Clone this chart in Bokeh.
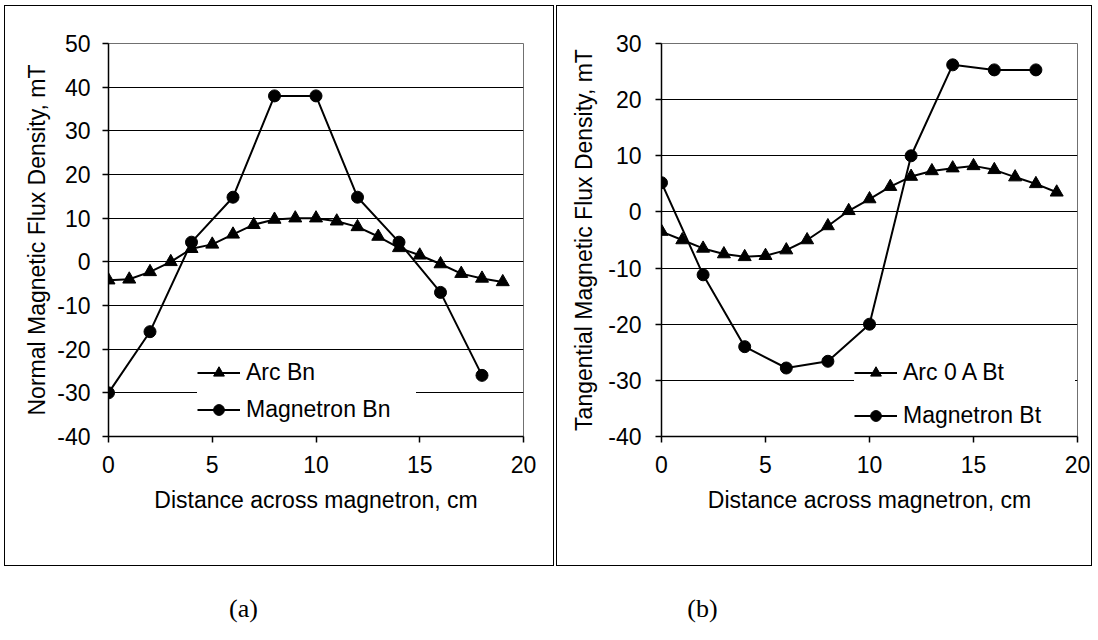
from bokeh.plotting import figure
from bokeh.models import Range1d, FixedTicker, Legend, LegendItem, Spacer
from bokeh.layouts import column, row
from bokeh.embed import file_html
from bokeh.resources import INLINE
from bokeh.core.properties import value

# ---- data ----
x_arc = list(range(20))
arc_bn = [-4.2, -4.0, -2.3, 0.0, 3.0, 4.0, 6.3, 8.5, 9.7, 10.0,
          10.0, 9.3, 8.0, 5.8, 3.2, 1.5, -0.5, -2.7, -3.8, -4.6]
x_mag = [0, 2, 4, 6, 8, 10, 12, 14, 16, 18]
mag_bn = [-30.0, -16.0, 4.5, 14.8, 38.0, 38.0, 14.8, 4.5, -7.0, -26.0]

arc_bt = [-3.5, -5.0, -6.5, -7.5, -8.0, -7.8, -6.8, -5.0, -2.5, 0.2,
          2.3, 4.5, 6.3, 7.3, 7.8, 8.2, 7.5, 6.2, 5.0, 3.5]
mag_bt = [5.2, -11.2, -24.0, -27.8, -26.6, -20.0, 10.0, 26.2, 25.3, 25.3]

x_ticks = [0, 5, 10, 15, 20]
y_ticks_a = [-40, -30, -20, -10, 0, 10, 20, 30, 40, 50]
y_ticks_b = [-40, -30, -20, -10, 0, 10, 20, 30]

labels_a = ["Arc Bn", "Magnetron Bn"]
labels_b = ["Arc 0 A Bt", "Magnetron Bt"]
xlabel = "Distance across magnetron, cm"
ylabel_a = "Normal Magnetic Flux Density, mT"
ylabel_b = "Tangential Magnetic Flux Density, mT"
captions = ["(a)", "(b)"]
caption_x = [243, 702]

FONT = "Liberation Sans"
FS = "23px"
PANEL_H = 561


def panel(width, bl, br, yticks, ylabel, arc, mag, labels,
          leg_loc, leg_pad, leg_spacing, leg_lw, y_std, ylab_std):
    p = figure(width=width, height=PANEL_H,
               x_range=Range1d(0, 20),
               y_range=Range1d(min(yticks), max(yticks)),
               output_backend="svg", toolbar_location=None,
               min_border_left=bl, min_border_right=br,
               min_border_top=37, min_border_bottom=131)
    p.styles = {"border": "1px solid black"}
    p.background_fill_color = "white"
    p.border_fill_color = "white"
    p.outline_line_color = "#707070"
    p.outline_line_width = 1

    p.xaxis.ticker = FixedTicker(ticks=x_ticks)
    p.yaxis.ticker = FixedTicker(ticks=yticks)
    # plain hyphen-minus, as in the reference
    p.xaxis.major_label_overrides = {t: str(t) for t in x_ticks}
    p.yaxis.major_label_overrides = {t: str(t) for t in yticks}
    p.xgrid.visible = False
    p.ygrid.grid_line_color = "black"
    p.ygrid.grid_line_width = 1
    p.ygrid.ticker = FixedTicker(ticks=yticks)

    for ax in (p.xaxis, p.yaxis):
        ax.axis_line_color = "black"
        ax.axis_line_width = 1.5
        ax.major_tick_line_color = "black"
        ax.major_tick_line_width = 1.5
        ax.major_tick_in = 0
        ax.major_tick_out = 6
        ax.minor_tick_line_color = None
        ax.major_label_text_font = FONT
        ax.major_label_text_font_size = FS
        ax.major_label_text_color = "black"
        ax.axis_label_text_font = FONT
        ax.axis_label_text_font_size = FS
        ax.axis_label_text_font_style = "normal"
        ax.axis_label_text_color = "black"
    p.xaxis.major_label_standoff = 13
    p.xaxis.axis_label_standoff = 11
    p.yaxis.major_label_standoff = y_std
    p.yaxis.axis_label_standoff = ylab_std
    p.xaxis.axis_label = xlabel
    p.yaxis.axis_label = ylabel

    l1 = p.line(x_arc, arc, line_color="black", line_width=2)
    s1 = p.scatter(x_arc, arc, marker="triangle", size=13,
                   fill_color="black", line_color="black")
    l2 = p.line(x_mag, mag, line_color="black", line_width=2)
    s2 = p.scatter(x_mag, mag, marker="circle", size=12,
                   fill_color="black", line_color="black")

    leg = Legend(items=[LegendItem(label=labels[0], renderers=[l1, s1]),
                        LegendItem(label=labels[1], renderers=[l2, s2])],
                 location=leg_loc)
    leg.label_text_font = FONT
    leg.label_text_font_size = FS
    leg.label_text_color = "black"
    leg.border_line_color = None
    leg.background_fill_color = "white"
    leg.background_fill_alpha = 1.0
    leg.padding = leg_pad
    leg.margin = 0
    leg.glyph_width = 43
    leg.glyph_height = 27
    leg.label_height = 27
    leg.label_standoff = 6
    leg.label_width = leg_lw
    leg.spacing = leg_spacing
    p.add_layout(leg)
    return p


W1, W2 = 550, 536
pa = panel(W1, 103, 32, y_ticks_a, ylabel_a, arc_bn, mag_bn, labels_a,
           (89, 13), 16, 10, 170, 12, 4)
pb = panel(W2, 104, 16, y_ticks_b, ylabel_b, arc_bt, mag_bt, labels_b,
           (193, 7), 6, 16, 172, 14, 8)

CAP_W, CAP_H = 1096, 60
cap = figure(width=CAP_W, height=CAP_H,
             x_range=Range1d(0, CAP_W), y_range=Range1d(0, CAP_H),
             output_backend="svg", toolbar_location=None,
             min_border=0)
cap.axis.visible = False
cap.grid.visible = False
cap.outline_line_color = None
cap.text(x=caption_x, y=[18, 18], text=captions,
         text_font=value("Liberation Serif"), text_font_size="26px",
         text_align="center", text_baseline="middle", text_color="black")

layout = column(Spacer(height=5),
                row(Spacer(width=4), pa, Spacer(width=2), pb),
                cap)
open("out.html", "w").write(file_html(layout, INLINE))
